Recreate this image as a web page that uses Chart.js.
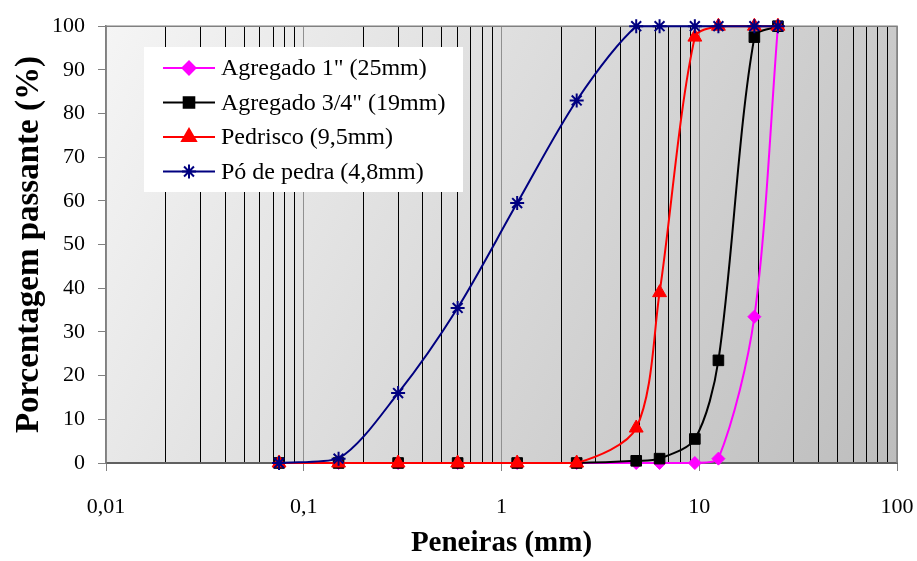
<!DOCTYPE html>
<html>
<head>
<meta charset="utf-8">
<script src="https://cdn.jsdelivr.net/npm/chart.js@4/dist/chart.umd.min.js"></script>
<style>
  html, body { margin: 0; padding: 0; background: #fff; }
  #wrap { width: 917px; height: 561px; }
</style>
</head>
<body>
<div id="wrap"><canvas id="chart1"></canvas></div>
<script>
// aberturas das peneiras (mm)
const peneiras = [0.075, 0.15, 0.3, 0.6, 1.2, 2.4, 4.8, 6.3, 9.5, 12.5, 19, 25];

const agregado1 = [0, 0, 0, 0, 0, 0, 0, 0, 0, 1, 33.5, 100];
const agregado34 = [0, 0, 0, 0, 0, 0, 0.5, 1, 5.5, 23.5, 97.5, 100];
const pedrisco = [0, 0, 0, 0, 0, 0, 8, 39, 97.5, 100, 100, 100];
const poPedra = [0, 1, 16, 35.5, 59.5, 83, 100, 100, 100, 100, 100, 100];

const nomes = ['Agregado 1" (25mm)', 'Agregado 3/4" (19mm)', 'Pedrisco (9,5mm)', 'Pó de pedra (4,8mm)'];

const serif = "'Liberation Serif', 'Times New Roman', serif";

function pts(ys) {
    return peneiras.map((x, i) => ({ x: x, y: ys[i] }));
}

function isMajor(v) {
    const l = Math.log10(v);
    return Math.abs(l - Math.round(l)) < 1e-9;
}

const fundo = {
    id: 'fundo',
    beforeDraw(chart) {
        const a = chart.chartArea;
        const c = chart.ctx;
        const g = c.createLinearGradient(a.left, a.top, a.right, a.bottom);
        g.addColorStop(0, '#f5f5f5');
        g.addColorStop(1, '#bdbdbd');
        c.save();
        c.fillStyle = g;
        c.fillRect(a.left, a.top, a.right - a.left, a.bottom - a.top);
        c.restore();
    },
    beforeDatasetsDraw(chart) {
        const a = chart.chartArea;
        const c = chart.ctx;
        c.save();
        c.strokeStyle = '#808080';
        c.lineWidth = 1.5;
        c.beginPath();
        c.moveTo(a.left, a.top);
        c.lineTo(a.right, a.top);
        c.lineTo(a.right, a.bottom);
        c.stroke();
        c.restore();
    }
};

const legenda = {
    id: 'legenda',
    afterDraw(chart) {
        const c = chart.ctx;
        c.save();
        c.fillStyle = '#fff';
        c.fillRect(144, 47, 319, 145);
        c.font = '24px ' + serif;
        c.textBaseline = 'middle';
        nomes.forEach((nome, i) => {
            const ds = chart.data.datasets[i];
            const y = 68 + i * 34.5;
            c.strokeStyle = ds.borderColor;
            c.lineWidth = 2;
            c.beginPath();
            c.moveTo(163, y);
            c.lineTo(215, y);
            c.stroke();
            c.fillStyle = ds.pointBackgroundColor;
            c.strokeStyle = ds.pointBorderColor;
            Chart.helpers.drawPoint(c, {
                pointStyle: ds.pointStyle,
                radius: ds.pointRadius,
                borderWidth: ds.pointBorderWidth,
                rotation: 0
            }, 189, y);
            c.fillStyle = '#000';
            c.fillText(nome, 221, y + 1);
        });
        c.restore();
    }
};

function serie(label, ys, cor, estilo, raio, ordem) {
    return {
        label: label,
        data: pts(ys),
        borderColor: cor,
        backgroundColor: cor,
        pointBackgroundColor: cor,
        pointBorderColor: cor,
        pointStyle: estilo,
        pointRadius: raio,
        pointBorderWidth: estilo === 'star' ? 2 : 1,
        borderWidth: 2,
        tension: 0.3,
        clip: false,
        order: ordem
    };
}

const ctx = document.getElementById('chart1').getContext('2d');
const chart1 = new Chart(ctx, {
    type: 'line',
    data: {
        datasets: [
            serie(nomes[0], agregado1, '#ff00ff', 'rectRot', 6.5, 3),
            serie(nomes[1], agregado34, '#000000', 'rect', 7.5, 2),
            serie(nomes[2], pedrisco, '#ff0000', 'triangle', 8, 1),
            serie(nomes[3], poPedra, '#000080', 'star', 7, 0)
        ]
    },
    options: {
        responsive: true,
        maintainAspectRatio: false,
        animation: false,
        layout: { padding: { top: 25, right: 20, left: 0, bottom: 0 } },
        scales: {
            x: {
                type: 'logarithmic',
                min: 0.01,
                max: 100,
                afterBuildTicks(scale) {
                    const t = [];
                    for (let e = -2; e <= 1; e++) {
                        for (let m = 1; m <= 9; m++) {
                            t.push({ value: m * Math.pow(10, e) });
                        }
                    }
                    t.push({ value: 100 });
                    scale.ticks = t;
                },
                afterFit(scale) {
                    scale.height = 98;
                    scale.paddingLeft = 0;
                    scale.paddingRight = 0;
                },
                border: { color: '#606060', width: 2 },
                grid: {
                    color: (c) => (c.tick && isMajor(c.tick.value)) ? '#909090' : '#000000',
                    lineWidth: 1,
                    tickColor: (c) => (c.tick && isMajor(c.tick.value)) ? '#808080' : 'rgba(0,0,0,0)',
                    tickLength: 8
                },
                ticks: {
                    autoSkip: false,
                    maxRotation: 0,
                    padding: 23,
                    color: '#000',
                    font: { family: serif, size: 22 },
                    callback: (v) => isMajor(v) ? String(Number(v.toPrecision(3))).replace('.', ',') : ''
                },
                title: {
                    display: true,
                    text: 'Peneiras (mm)',
                    color: '#000',
                    font: { family: serif, size: 29, weight: 'bold' },
                    padding: { top: 0, bottom: 0 }
                }
            },
            y: {
                min: 0,
                max: 100,
                afterFit(scale) { scale.width = 106; },
                border: { color: '#808080', width: 1.5 },
                grid: {
                    drawOnChartArea: false,
                    tickColor: '#808080',
                    tickLength: 8
                },
                ticks: {
                    stepSize: 10,
                    padding: 13,
                    color: '#000',
                    font: { family: serif, size: 22 }
                },
                title: {
                    display: true,
                    text: 'Porcentagem passante (%)',
                    color: '#000',
                    font: { family: serif, size: 33, weight: 'bold' },
                    padding: { top: 10, bottom: 0 }
                }
            }
        },
        plugins: {
            legend: { display: false },
            tooltip: { enabled: false }
        }
    },
    plugins: [fundo, legenda]
});
</script>
</body>
</html>
